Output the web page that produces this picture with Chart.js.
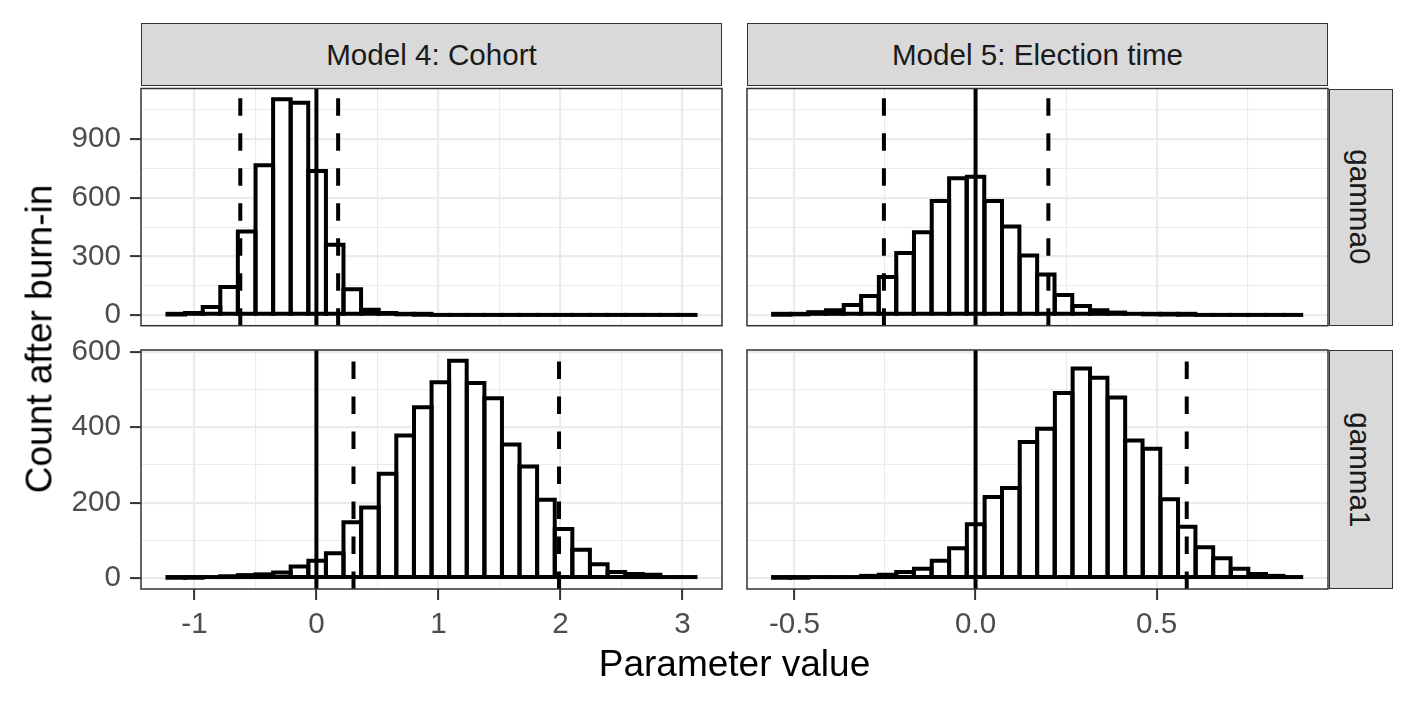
<!DOCTYPE html>
<html>
<head>
<meta charset="utf-8">
<script src="https://cdn.jsdelivr.net/npm/chart.js@4.4.1/dist/chart.umd.min.js"></script>
<style>
  html, body { margin: 0; padding: 0; background: #fff; }
  #wrap { position: relative; width: 1417px; height: 708px; overflow: hidden;
          font-family: "Liberation Sans", Arial, Helvetica, sans-serif; }
  canvas { position: absolute; left: 0; top: 0; }
  .strip { position: absolute; box-sizing: border-box; background: #d9d9d9; border: 1.5px solid #333;
           display: flex; align-items: center; justify-content: center;
           color: #1a1a1a; font-size: 29.6px; line-height: 1; white-space: nowrap; }
  .strip.side span { display: inline-block; transform: rotate(90deg); }
  .title { position: absolute; color: #000; font-size: 37px; line-height: 1; white-space: nowrap; }
</style>
</head>
<body>
<div id="wrap">
  <canvas id="p11" width="1417" height="708"></canvas>
  <canvas id="p12" width="1417" height="708"></canvas>
  <canvas id="p21" width="1417" height="708"></canvas>
  <canvas id="p22" width="1417" height="708"></canvas>

  <div class="strip" style="left:141px; top:23px; width:581px; height:63px;">Model 4: Cohort</div>
  <div class="strip" style="left:747px; top:23px; width:581px; height:63px;">Model 5: Election time</div>
  <div class="strip side" style="left:1329px; top:88.5px; width:64px; height:237px;"><span>gamma0</span></div>
  <div class="strip side" style="left:1329px; top:350px; width:64px; height:239px;"><span>gamma1</span></div>

  <div class="title" style="left:734.5px; top:644.7px; transform:translateX(-50%);">Parameter value</div>
  <div class="title" style="left:39px; top:338.75px; transform:translate(-50%,-50%) rotate(-90deg);">Count after burn-in</div>
</div>

<script>
// histogram bin centres (30 bins per column, shared by both rows)
const binsCohort = [-1.149, -1.005, -0.860, -0.716, -0.572, -0.427, -0.283, -0.139, 0.006, 0.150,
                    0.294, 0.439, 0.583, 0.727, 0.872, 1.016, 1.160, 1.305, 1.449, 1.593,
                    1.737, 1.882, 2.026, 2.170, 2.315, 2.459, 2.603, 2.748, 2.892, 3.036]
const binsElection = [-0.535, -0.486, -0.438, -0.389, -0.340, -0.292, -0.243, -0.195, -0.146, -0.097,
                      -0.049, 0.000, 0.049, 0.097, 0.146, 0.194, 0.243, 0.292, 0.340, 0.389,
                      0.437, 0.486, 0.535, 0.583, 0.632, 0.680, 0.729, 0.778, 0.826, 0.875]

// counts after burn-in
const countsCohortGamma0 = [2, 10, 41, 143, 428, 767, 1105, 1087, 737, 360,
                            131, 27, 10, 3, 1, 0, 0, 0, 0, 0,
                            0, 0, 0, 0, 0, 0, 0, 0, 0, 0]
const countsCohortGamma1 = [1, 1, 2, 5, 8, 10, 15, 31, 46, 66,
                            148, 187, 277, 378, 453, 519, 576, 517, 477, 354,
                            296, 208, 130, 75, 37, 16, 11, 9, 4, 2]
const countsElectionGamma0 = [1, 3, 14, 24, 51, 97, 194, 317, 423, 584,
                              700, 708, 584, 453, 304, 207, 102, 46, 24, 12,
                              5, 3, 2, 1, 0, 0, 0, 0, 0, 0]
const countsElectionGamma1 = [1, 1, 2, 2, 4, 6, 9, 16, 25, 46,
                              79, 143, 215, 239, 361, 396, 491, 556, 531, 479,
                              365, 343, 209, 136, 82, 53, 25, 11, 6, 3]

// reference lines: zero and interval bounds
const zeroLine = [0]
const ciCohortGamma0 = [-0.624, 0.178]
const ciCohortGamma1 = [0.304, 1.989]
const ciElectionGamma0 = [-0.253, 0.201]
const ciElectionGamma1 = [0.583]

// axis ticks
const xTicksCohort = [-1, 0, 1, 2, 3]
const xMinorCohort = [-0.5, 0.5, 1.5, 2.5]
const xTicksElection = [-0.5, 0, 0.5]
const xMinorElection = [-0.25, 0.25, 0.75]
const yTicksGamma0 = [0, 300, 600, 900]
const yMinorGamma0 = [150, 450, 750, 1050]
const yTicksGamma1 = [0, 200, 400, 600]
const yMinorGamma1 = [100, 300, 500]

const W = 1417, H = 708
const tickFont = { family: '"Liberation Sans", Arial, sans-serif', size: 29.6 }
const LINE = 4

const panelDecor = {
  id: 'panelDecor',
  afterDatasetsDraw(chart, args, opts) {
    const { ctx, chartArea: a } = chart
    const xs = chart.scales.x
    ctx.save()
    ctx.strokeStyle = '#000'
    ctx.lineWidth = LINE
    ctx.lineJoin = 'miter'
    chart.getDatasetMeta(0).data.forEach(bar => {
      const p = bar.getProps(['x', 'y', 'base', 'width'], true)
      const l = p.x - p.width / 2, r = p.x + p.width / 2
      ctx.beginPath()
      if (Math.abs(p.base - p.y) < 0.5) {
        // empty bin: ggplot still draws its flat outline
        ctx.lineCap = 'square'
        ctx.moveTo(l, p.base)
        ctx.lineTo(r, p.base)
      } else {
        ctx.lineCap = 'butt'
        ctx.rect(l, p.y, p.width, p.base - p.y)
      }
      ctx.stroke()
    })
    const vline = (v, dash) => {
      const px = xs.getPixelForValue(v)
      ctx.lineCap = 'butt'
      ctx.setLineDash(dash)
      ctx.beginPath()
      ctx.moveTo(px, a.bottom)
      ctx.lineTo(px, a.top)
      ctx.stroke()
    }
    opts.solid.forEach(v => vline(v, []))
    opts.dashed.forEach(v => vline(v, [17.5, 17.5]))
    ctx.restore()
  },
  afterDraw(chart) {
    const { ctx, chartArea: a } = chart
    ctx.save()
    ctx.strokeStyle = '#333'
    ctx.lineWidth = 1.5
    ctx.strokeRect(a.left, a.top, a.right - a.left, a.bottom - a.top)
    ctx.restore()
  }
}

const makePanel = (id, p) => {
  const xMajor = new Set(p.xTicks), yMajor = new Set(p.yTicks)
  const xAll = p.xTicks.concat(p.xMinor).sort((a, b) => a - b)
  const yAll = p.yTicks.concat(p.yMinor).sort((a, b) => a - b)
  const xAxisH = p.showX ? 60 : 0
  const yAxisW = p.showY ? 141 : 0

  new Chart(document.getElementById(id), {
    type: 'bar',
    data: {
      datasets: [{
        data: p.bins.map((b, i) => ({ x: b, y: p.counts[i] })),
        backgroundColor: '#fff',
        borderWidth: 0,
        barPercentage: 1,
        categoryPercentage: 1
      }]
    },
    options: {
      responsive: false,
      animation: false,
      layout: {
        autoPadding: false,
        padding: { left: p.left - yAxisW, top: p.top, right: W - p.right, bottom: H - p.bottom - xAxisH }
      },
      plugins: {
        legend: { display: false },
        tooltip: { enabled: false },
        panelDecor: { solid: zeroLine, dashed: p.ci }
      },
      scales: {
        x: {
          type: 'linear', min: p.xMin, max: p.xMax, bounds: 'data', offset: false,
          border: { display: false },
          grid: {
            offset: false,
            color: '#ebebeb',
            lineWidth: c => xMajor.has(c.tick.value) ? 2.2 : 1.1,
            drawTicks: p.showX, tickLength: 11, tickWidth: 2,
            tickColor: c => xMajor.has(c.tick.value) ? '#333' : 'rgba(0,0,0,0)'
          },
          ticks: {
            display: p.showX, autoSkip: false, maxRotation: 0, padding: 7,
            font: tickFont, color: '#4d4d4d',
            callback: v => xMajor.has(v) ? p.xLabel(v) : ''
          },
          afterBuildTicks: s => { s.ticks = xAll.map(v => ({ value: v })) },
          afterFit: s => { s.height = xAxisH; s.paddingLeft = 0; s.paddingRight = 0 }
        },
        y: {
          type: 'linear', min: p.yMin, max: p.yMax, bounds: 'data',
          border: { display: false },
          grid: {
            color: '#ebebeb',
            lineWidth: c => yMajor.has(c.tick.value) ? 2.2 : 1.1,
            drawTicks: p.showY, tickLength: 11, tickWidth: 2,
            tickColor: c => yMajor.has(c.tick.value) ? '#333' : 'rgba(0,0,0,0)'
          },
          ticks: {
            display: p.showY, autoSkip: false, padding: 9,
            font: tickFont, color: '#4d4d4d',
            callback: v => yMajor.has(v) ? String(v) : ''
          },
          afterBuildTicks: s => { s.ticks = yAll.map(v => ({ value: v })) },
          afterFit: s => { s.width = yAxisW; s.paddingTop = 0; s.paddingBottom = 0 }
        }
      }
    },
    plugins: [panelDecor]
  })
}

// column / row extents (ggplot-style 5% expansion)
const cohortCol = { left: 141, right: 722, xMin: -1.438, xMax: 3.325, xTicks: xTicksCohort, xMinor: xMinorCohort, xLabel: v => String(v), bins: binsCohort }
const electionCol = { left: 747, right: 1328, xMin: -0.631, xMax: 0.973, xTicks: xTicksElection, xMinor: xMinorElection, xLabel: v => v.toFixed(1), bins: binsElection }
const gamma0Row = { top: 88.5, bottom: 325.7, yMin: -55.25, yMax: 1160.25, yTicks: yTicksGamma0, yMinor: yMinorGamma0, showX: false }
const gamma1Row = { top: 350, bottom: 589, yMin: -28.8, yMax: 604.8, yTicks: yTicksGamma1, yMinor: yMinorGamma1, showX: true }

makePanel('p11', { ...cohortCol, ...gamma0Row, showY: true, counts: countsCohortGamma0, ci: ciCohortGamma0 })
makePanel('p12', { ...electionCol, ...gamma0Row, showY: false, counts: countsElectionGamma0, ci: ciElectionGamma0 })
makePanel('p21', { ...cohortCol, ...gamma1Row, showY: true, counts: countsCohortGamma1, ci: ciCohortGamma1 })
makePanel('p22', { ...electionCol, ...gamma1Row, showY: false, counts: countsElectionGamma1, ci: ciElectionGamma1 })
</script>
</body>
</html>
